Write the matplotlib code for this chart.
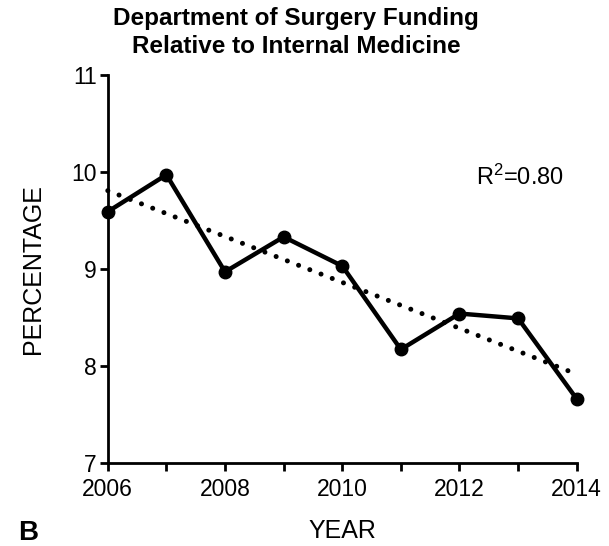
import numpy as np
import matplotlib
matplotlib.use("Agg")
import matplotlib.pyplot as plt

plt.rcParams['font.family'] = ['Liberation Sans', 'DejaVu Sans']
plt.rcParams['mathtext.default'] = 'regular'

years = [2006, 2007, 2008, 2009, 2010, 2011, 2012, 2013, 2014]
percentage = [9.59, 9.97, 8.97, 9.33, 9.03, 8.17, 8.54, 8.49, 7.66]
x_tick_labels = ['2006', '', '2008', '', '2010', '', '2012', '', '2014']
y_ticks = [7, 8, 9, 10, 11]
r2_text = r'R$^2$=0.80'

fig = plt.figure(figsize=(6.09, 5.46), dpi=100)
ax = fig.add_axes([0.177, 0.152, 0.770, 0.711])

# linear trend over the same years
slope, intercept = np.polyfit(years, percentage, 1)
trend = np.polyval([slope, intercept], years)
ax.plot(years, trend, color='black', lw=3.6, linestyle=(0, (0.01, 2.4)),
        dash_capstyle='round', clip_on=False, zorder=2)

ax.plot(years, percentage, color='black', lw=3.2, marker='o', markersize=9,
        clip_on=False, zorder=3)

ax.set_xlim(2006, 2014)
ax.set_ylim(7, 11)
ax.set_xticks(years)
ax.set_xticklabels(x_tick_labels)
ax.set_yticks(y_ticks)

for s in ['top', 'right']:
    ax.spines[s].set_visible(False)
for s in ['left', 'bottom']:
    ax.spines[s].set_linewidth(2)

ax.tick_params(axis='both', length=6, width=2, labelsize=16.5)
ax.tick_params(axis='x', pad=5)
ax.tick_params(axis='y', pad=2)

ax.set_xlabel('YEAR', fontsize=18, labelpad=13)
ax.set_ylabel('PERCENTAGE', fontsize=18, labelpad=19)

fig.text(0.486, 0.987, 'Department of Surgery Funding\nRelative to Internal Medicine',
         fontsize=17.5, fontweight='bold', ha='center', va='top', linespacing=1.25)

ax.text(2013.03, 9.94, r2_text, fontsize=17, ha='center', va='center')

fig.text(0.03, 0.0, 'B', fontsize=20, fontweight='bold', va='bottom', ha='left')

fig.savefig('out.png', dpi=100)
